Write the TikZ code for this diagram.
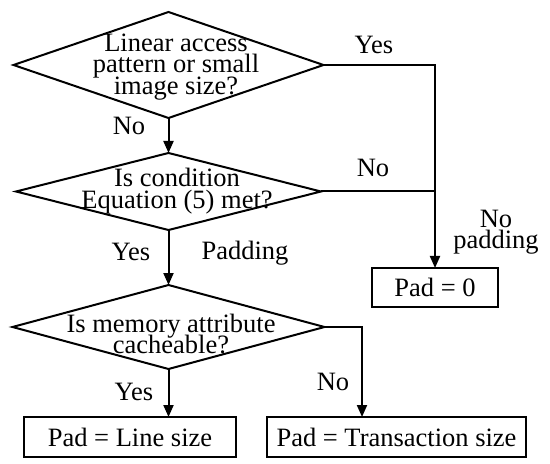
\documentclass[tikz,border=0pt]{standalone}
\usepackage{fontspec}
\setmainfont{Liberation Serif}
\usetikzlibrary{shapes.geometric,arrows.meta}
\newcommand{\flowfont}{\fontsize{13.25}{10.8}\selectfont\lineskiplimit=-10pt\relax}

\begin{document}
\begin{tikzpicture}[x=0.5pt,y=-0.5pt,line width=1pt,
  every node/.style={font=\flowfont},
  Decision/.style={draw,diamond,inner sep=0pt,outer sep=0pt},
  Result/.style={draw,rectangle,inner sep=0pt,outer sep=0pt,minimum height=20pt},
  Question/.style={align=center,inner sep=0pt},
  Flow/.style={-{Triangle[length=6pt,width=5pt]}}]
\useasboundingbox (0,0) rectangle (550,464);

% decisions
\node[Decision,minimum width=155pt,minimum height=53pt] (D1) at (168.5,65) {};
\node[Decision,minimum width=152.5pt,minimum height=38.5pt] (D2) at (168.5,191.5) {};
\node[Decision,minimum width=156pt,minimum height=42pt] (D3) at (168.5,327) {};
\node[Question] (Q1) at (176,67) {Linear access\\pattern or small\\image size?};
\node[Question] (Q2) at (177,191) {Is condition\\Equation (5) met?};
\node[Question] (Q3) at (171,334) {Is memory attribute\\cacheable?};

% results
\node[Result,minimum width=63pt,minimum height=19.5pt] (P0) at (435,287.5) {Pad = 0};
\node[Result,minimum width=106.25pt] (P1) at (130,437) {Pad = Line size};
\node[Result,minimum width=129.5pt] (P2) at (396.5,437) {Pad = Transaction size};

% connectors
\draw[Flow] (D1.south) -- (D2.north);
\draw[Flow] (D1.east) -| (P0.north);
\coordinate (J) at (P0.north |- D2.east);
\draw (D2.east) -- (J);
\draw[Flow] (D2.south) -- (D3.north);
\draw[Flow] (D3.south) -- (D3.south |- P1.north);
\coordinate (T2) at (362,417);
\draw[Flow] (D3.east) -| (T2);

% branch labels
\node (Y1) at (374,45) {Yes};
\node (N1) at (129,126) {No};
\node (N2) at (373,168) {No};
\node[align=center] (NP) at (496,232) {No\\padding};
\node (Y2) at (131,252) {Yes};
\node (PD) at (245,253) {Padding};
\node (Y3) at (134,392) {Yes};
\node (N3) at (333,382) {No};

\end{tikzpicture}
\end{document}
